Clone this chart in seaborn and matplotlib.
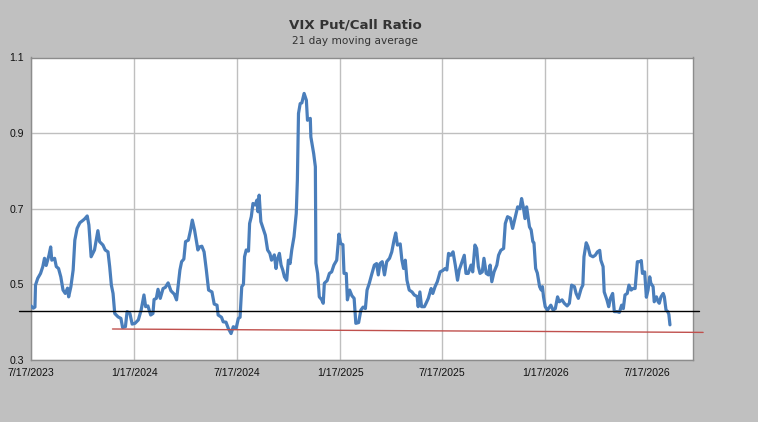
"""VIX put/call ratio, 21 day moving average, with a flat reference level and a trend line."""

import matplotlib

matplotlib.use("Agg")
import matplotlib.pyplot as plt
import numpy as np
import pandas as pd
import seaborn as sns

START = pd.Timestamp("2023-07-17")

# days since START
DAYS = [
    0, 4, 7, 8, 12, 17, 21, 24, 27, 32, 35, 37, 42, 45, 49, 53, 57, 61, 65, 67,
    71, 75, 78, 82, 87, 93, 96, 100, 103, 107, 113, 119, 122, 128, 132, 137, 140, 143, 146, 149,
    155, 160, 163, 168, 171, 176, 180, 185, 191, 196, 201, 204, 208, 213, 217, 219, 223, 226, 230, 235,
    239, 244, 249, 255, 259, 262, 265, 268, 272, 275, 280, 284, 287, 291, 294, 297, 300, 304, 308, 312,
    316, 322, 326, 331, 333, 339, 342, 347, 351, 356, 360, 365, 369, 372, 375, 378, 380, 383, 387, 389,
    392, 395, 399, 402, 404, 406, 409, 414, 417, 421, 425, 428, 433, 436, 438, 442, 445, 448, 451, 455,
    458, 461, 464, 468, 472, 474, 476, 479, 482, 486, 490, 492, 497, 498, 503, 506, 507, 510, 513, 517,
    520, 522, 527, 531, 535, 539, 544, 548, 551, 555, 557, 561, 563, 567, 571, 575, 578, 583, 587, 591,
    595, 598, 602, 606, 611, 615, 618, 621, 625, 629, 633, 638, 642, 646, 649, 652, 657, 660, 663, 666,
    669, 673, 678, 682, 687, 689, 692, 695, 700, 703, 707, 712, 715, 719, 723, 728, 733, 737, 740, 743,
    747, 751, 755, 759, 762, 767, 771, 774, 778, 783, 786, 790, 793, 796, 799, 803, 806, 810, 814, 817,
    820, 824, 829, 832, 836, 841, 844, 848, 853, 857, 862, 866, 870, 873, 876, 879, 882, 887, 890, 893,
    895, 898, 901, 905, 908, 910, 912, 915, 919, 923, 925, 929, 933, 937, 940, 945, 949, 954, 958, 962,
    967, 970, 974, 979, 982, 984, 988, 991, 995, 1000, 1004, 1008, 1012, 1014, 1018, 1020, 1025, 1028, 1031, 1035,
    1038, 1043, 1047, 1051, 1054, 1057, 1061, 1064, 1068, 1071, 1075, 1079, 1083, 1086, 1088, 1092, 1095, 1098, 1101, 1103,
    1107, 1109, 1113, 1116, 1118, 1121, 1125, 1127, 1130, 1133, 1135, 1137,
]

RATIO = [
    0.443, 0.437, 0.440, 0.498, 0.516, 0.529, 0.547, 0.569, 0.550, 0.577, 0.599, 0.564, 0.569, 0.547, 0.542, 0.520, 0.485, 0.476, 0.490, 0.467,
    0.494, 0.538, 0.617, 0.648, 0.663, 0.670, 0.674, 0.681, 0.657, 0.573, 0.591, 0.642, 0.613, 0.604, 0.591, 0.586, 0.547, 0.498, 0.476, 0.423,
    0.414, 0.410, 0.386, 0.388, 0.428, 0.423, 0.395, 0.397, 0.406, 0.432, 0.472, 0.441, 0.443, 0.419, 0.423, 0.460, 0.463, 0.487, 0.463, 0.489,
    0.492, 0.504, 0.483, 0.474, 0.459, 0.498, 0.538, 0.560, 0.567, 0.613, 0.617, 0.644, 0.670, 0.644, 0.617, 0.591, 0.599, 0.601, 0.586, 0.538,
    0.485, 0.480, 0.448, 0.445, 0.419, 0.413, 0.401, 0.400, 0.384, 0.370, 0.388, 0.384, 0.410, 0.413, 0.494, 0.500, 0.573, 0.591, 0.588, 0.661,
    0.679, 0.714, 0.710, 0.723, 0.692, 0.736, 0.666, 0.644, 0.630, 0.591, 0.582, 0.564, 0.578, 0.542, 0.564, 0.582, 0.551, 0.538, 0.520, 0.511,
    0.564, 0.555, 0.591, 0.626, 0.688, 0.776, 0.952, 0.978, 0.980, 1.005, 0.987, 0.934, 0.939, 0.890, 0.846, 0.811, 0.556, 0.529, 0.467, 0.460,
    0.450, 0.503, 0.510, 0.529, 0.533, 0.551, 0.564, 0.633, 0.608, 0.605, 0.529, 0.529, 0.459, 0.485, 0.470, 0.463, 0.397, 0.399, 0.432, 0.440,
    0.436, 0.485, 0.503, 0.525, 0.551, 0.555, 0.525, 0.555, 0.560, 0.525, 0.560, 0.569, 0.586, 0.617, 0.636, 0.604, 0.607, 0.564, 0.542, 0.564,
    0.511, 0.485, 0.480, 0.472, 0.468, 0.441, 0.480, 0.441, 0.441, 0.450, 0.463, 0.489, 0.476, 0.494, 0.507, 0.533, 0.537, 0.542, 0.538, 0.582,
    0.577, 0.586, 0.551, 0.511, 0.538, 0.560, 0.577, 0.529, 0.529, 0.551, 0.533, 0.604, 0.595, 0.547, 0.529, 0.533, 0.569, 0.529, 0.525, 0.551,
    0.507, 0.533, 0.551, 0.577, 0.590, 0.595, 0.661, 0.679, 0.675, 0.648, 0.679, 0.705, 0.700, 0.727, 0.705, 0.674, 0.705, 0.652, 0.644, 0.613,
    0.610, 0.542, 0.530, 0.494, 0.485, 0.494, 0.467, 0.441, 0.432, 0.441, 0.445, 0.432, 0.436, 0.467, 0.454, 0.459, 0.450, 0.443, 0.450, 0.498,
    0.494, 0.476, 0.463, 0.489, 0.498, 0.573, 0.610, 0.600, 0.577, 0.573, 0.577, 0.586, 0.590, 0.564, 0.547, 0.480, 0.458, 0.441, 0.463, 0.476,
    0.428, 0.428, 0.426, 0.445, 0.436, 0.472, 0.476, 0.498, 0.485, 0.489, 0.489, 0.560, 0.560, 0.563, 0.529, 0.533, 0.466, 0.485, 0.520, 0.503,
    0.494, 0.454, 0.467, 0.454, 0.450, 0.467, 0.476, 0.467, 0.432, 0.428, 0.421, 0.393,
]

# horizontal reference level and the trend line under the lows
LEVEL_DAYS = [-21, 1189]
LEVEL_VALUES = [0.429, 0.429]
TREND_DAYS = [145, 1196]
TREND_VALUES = [0.382, 0.373]

TICK_DATES = ["2023-07-17", "2024-01-17", "2024-07-17", "2025-01-17", "2025-07-17", "2026-01-17", "2026-07-17"]
TICK_LABELS = ["7/17/2023", "1/17/2024", "7/17/2024", "1/17/2025", "7/17/2025", "1/17/2026", "7/17/2026"]
Y_TICKS = [0.3, 0.5, 0.7, 0.9, 1.1]
X_END_DAYS = 1178

TITLE = "VIX Put/Call Ratio"
SUBTITLE = "21 day moving average"

BG = "#c0c0c0"
BLUE = "#4a7ebb"


def to_dates(days):
    return START + pd.to_timedelta(np.asarray(days), unit="D")


def main() -> None:
    sns.set_theme(style="white")
    plt.rcParams["font.family"] = ["Liberation Sans", "DejaVu Sans"]

    df = pd.DataFrame({"date": to_dates(DAYS), "ratio": RATIO})

    fig = plt.figure(figsize=(7.58, 4.22), dpi=100, facecolor=BG)
    ax = fig.add_axes([31 / 758, 1 - 360 / 422, 662 / 758, 302.5 / 422])
    ax.set_facecolor("white")

    sns.lineplot(data=df, x="date", y="ratio", ax=ax, color=BLUE, linewidth=2.3, zorder=3)

    ax.plot(to_dates(LEVEL_DAYS), LEVEL_VALUES, color="black", linewidth=1.0, clip_on=False, zorder=4)
    ax.plot(to_dates(TREND_DAYS), TREND_VALUES, color="#c0504d", linewidth=1.0, clip_on=False, zorder=4)

    ax.set_xlim(START, START + pd.Timedelta(days=X_END_DAYS))
    ax.set_ylim(0.3, 1.1)
    ax.set_xticks(pd.to_datetime(TICK_DATES))
    ax.set_xticklabels(TICK_LABELS)
    ax.set_yticks(Y_TICKS)
    ax.set_yticklabels([f"{v:.1f}" for v in Y_TICKS])
    ax.tick_params(axis="both", length=0, labelsize=7.6, labelcolor="#111111")
    ax.tick_params(axis="x", pad=6)
    ax.tick_params(axis="y", pad=5)
    ax.set_xlabel("")
    ax.set_ylabel("")

    ax.grid(True, color="#bfbfbf", linewidth=1.0)
    ax.set_axisbelow(True)
    for spine in ax.spines.values():
        spine.set_color("#8c8c8c")
        spine.set_linewidth(1.0)

    fig.text(355 / 758, 1 - 25 / 422, TITLE, ha="center", va="center",
             fontsize=9.6, fontweight="bold", color="#333333", family="DejaVu Sans")
    fig.text(355 / 758, 1 - 40.5 / 422, SUBTITLE, ha="center", va="center",
             fontsize=7.6, color="#333333", family="DejaVu Sans")

    fig.savefig("out.png", dpi=100, facecolor=BG)
    plt.close(fig)


if __name__ == "__main__":
    main()
